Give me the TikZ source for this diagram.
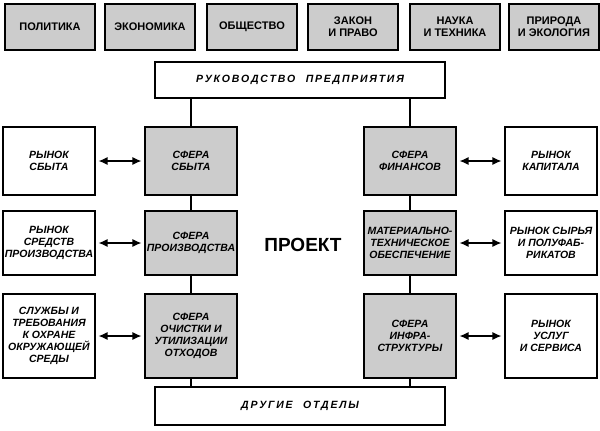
\documentclass[tikz,border=0pt]{standalone}
\usepackage{fontspec}
\setmainfont{Liberation Sans}
\usetikzlibrary{positioning,arrows.meta}

\begin{document}
\begin{tikzpicture}[x=1pt, y=-1pt, line width=1.1pt,
  top/.style = {draw, fill=black!20, minimum width=90, minimum height=46, align=center, font=\bfseries\fontsize{11}{12}\selectfont},
  side/.style = {draw, fill=white, minimum width=92, minimum height=#1, align=center, inner sep=1pt, font=\bfseries\itshape\fontsize{10.5}{12}\selectfont},
  sphere/.style = {draw, fill=black!20, minimum width=92, minimum height=#1, align=center, inner sep=1pt, font=\bfseries\itshape\fontsize{10.5}{12}\selectfont},
  wide/.style = {draw, minimum width=290, minimum height=36, font=\bfseries\itshape\fontsize{10.5}{12}\selectfont},
  link/.style = {{Latex[length=9pt,width=8pt]}-{Latex[length=9pt,width=8pt]}, line width=1.2pt}]
  \useasboundingbox (0,0) rectangle (600,431);
  % top row
  \node[top] (pol) at (50,27) {ПОЛИТИКА};
  \node[top] (eco) at (150,27) {ЭКОНОМИКА};
  \node[top] (soc) at (252,27) {ОБЩЕСТВО};
  \node[top] (law) at (353,27) {ЗАКОН\\И ПРАВО};
  \node[top] (sci) at (455,27) {НАУКА\\И ТЕХНИКА};
  \node[top] (nat) at (554,27) {ПРИРОДА\\И ЭКОЛОГИЯ};
  % management and other departments
  \node[wide] (mgmt) at (300,80) {Р\,У\,К\,О\,В\,О\,Д\,С\,Т\,В\,О\quad П\,Р\,Е\,Д\,П\,Р\,И\,Я\,Т\,И\,Я};
  \node[wide, minimum height=38] (dept) at (300,406) {Д\,Р\,У\,Г\,И\,Е\quad О\,Т\,Д\,Е\,Л\,Ы};
  % left column
  \node[sphere=68] (s1) at (191,161) {СФЕРА\\СБЫТА};
  \node[sphere=64] (s2) at (191,243) {СФЕРА\\ПРОИЗВОДСТВА};
  \node[sphere=84] (s3) at (191,336) {СФЕРА\\ОЧИСТКИ И\\УТИЛИЗАЦИИ\\ОТХОДОВ};
  \node[side=68] (m1) at (49,161) {РЫНОК\\СБЫТА};
  \node[side=64] (m2) at (49,243) {РЫНОК\\СРЕДСТВ\\ПРОИЗВОДСТВА};
  \node[side=84] (m3) at (49,336) {СЛУЖБЫ И\\ТРЕБОВАНИЯ\\К ОХРАНЕ\\ОКРУЖАЮЩЕЙ\\СРЕДЫ};
  % right column
  \node[sphere=68] (r1) at (410,161) {СФЕРА\\ФИНАНСОВ};
  \node[sphere=64] (r2) at (410,243) {МАТЕРИАЛЬНО-\\ТЕХНИЧЕСКОЕ\\ОБЕСПЕЧЕНИЕ};
  \node[sphere=84] (r3) at (410,336) {СФЕРА\\ИНФРА-\\СТРУКТУРЫ};
  \node[side=68] (k1) at (551,161) {РЫНОК\\КАПИТАЛА};
  \node[side=64] (k2) at (551,243) {РЫНОК СЫРЬЯ\\И ПОЛУФАБ-\\РИКАТОВ};
  \node[side=84] (k3) at (551,336) {РЫНОК\\УСЛУГ\\И СЕРВИСА};
  % centre
  \node[font=\bfseries\fontsize{19}{22}\selectfont] (proj) at (303,245) {ПРОЕКТ};
  % links
  \draw (mgmt.south -| s1) -- (s1) -- (s2) -- (s3) -- (dept.north -| s3);
  \draw (mgmt.south -| r1) -- (r1) -- (r2) -- (r3) -- (dept.north -| r3);
  \foreach \a/\b in {m1/s1, m2/s2, m3/s3, r1/k1, r2/k2, r3/k3}
    \draw[link, shorten <=3pt, shorten >=3pt] (\a) -- (\b);
\end{tikzpicture}
\end{document}
